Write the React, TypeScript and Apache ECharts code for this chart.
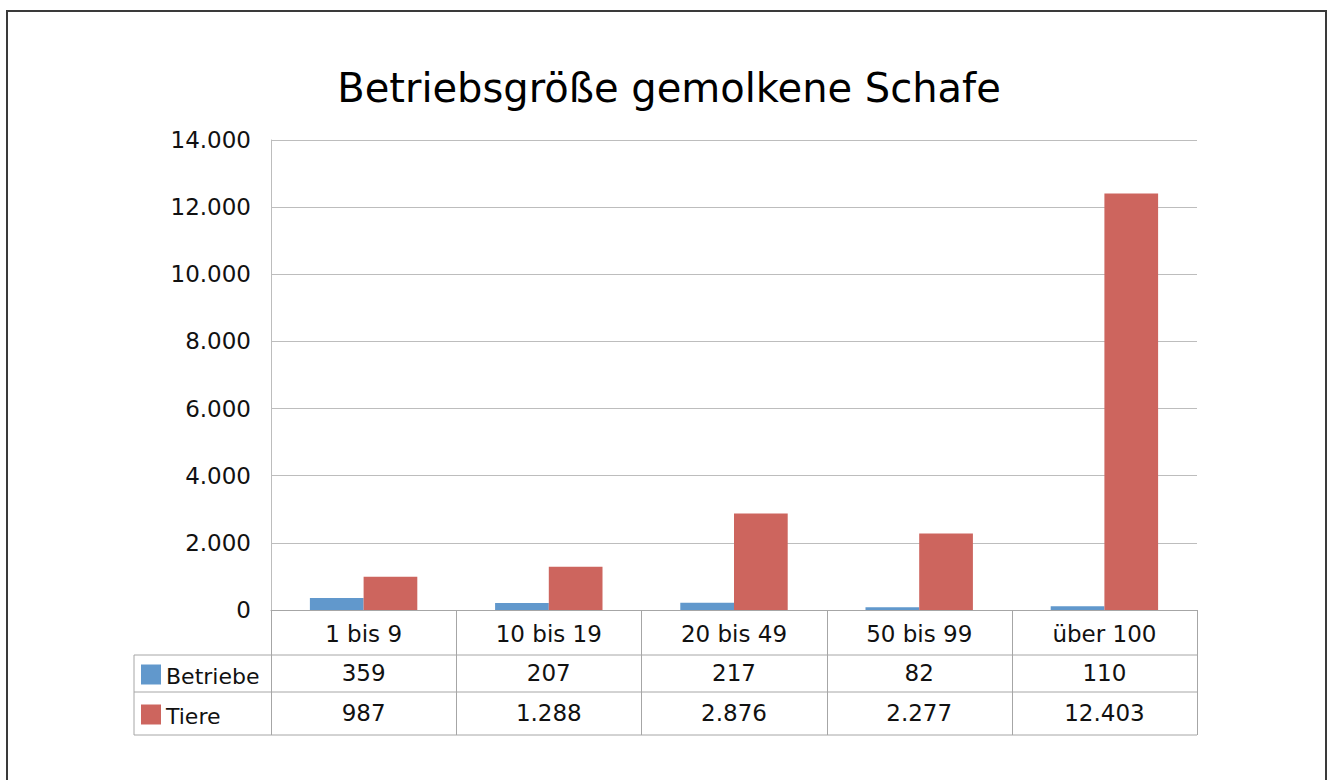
import React, { useEffect, useRef } from "react";
import * as echarts from "echarts";

const categories = ["1 bis 9", "10 bis 19", "20 bis 49", "50 bis 99", "über 100"];
const betriebe = [359, 207, 217, 82, 110];
const tiere = [987, 1288, 2876, 2277, 12403];
const seriesNames = ["Betriebe", "Tiere"];
const colors = ["#6198CC", "#CD655E"];

const fmt = (v: number) => String(v).replace(/\B(?=(\d{3})+(?!\d))/g, ".");

const FONT = "DejaVu Sans";
const GL = 271, GT = 140, GW = 926, GH = 470;
const TL = 134;
const ROW1 = GT + GH + 45; // 655
const ROW2 = ROW1 + 37; // 692
const ROW3 = ROW2 + 43; // 735
const LINE = "#a6a6a6";

export default function App() {
  const ref = useRef<HTMLDivElement>(null);
  useEffect(() => {
    const chart = echarts.init(ref.current!, null, { renderer: "svg" });
    const colW = GW / categories.length;
    const graphics: any[] = [];
    graphics.push({
      type: "rect", shape: { x: 7, y: 11, width: 1319, height: 800 },
      style: { fill: "none", stroke: "#3a3a3a", lineWidth: 2 }, silent: true,
    });
    [ROW1, ROW2, ROW3].forEach((y) =>
      graphics.push({ type: "line", shape: { x1: TL, y1: y, x2: GL + GW, y2: y }, style: { stroke: LINE, lineWidth: 1 } })
    );
    graphics.push({ type: "line", shape: { x1: TL, y1: ROW1, x2: TL, y2: ROW3 }, style: { stroke: LINE, lineWidth: 1 } });
    for (let i = 0; i <= categories.length; i++) {
      const x = Math.round(GL + i * colW) + 0.5;
      graphics.push({ type: "line", shape: { x1: x, y1: GT + GH, x2: x, y2: ROW3 }, style: { stroke: LINE, lineWidth: 1 } });
    }
    const rows = [betriebe, tiere];
    const rowMid = [(ROW1 + ROW2) / 2, (ROW2 + ROW3) / 2];
    rows.forEach((vals, r) => {
      graphics.push({ type: "rect", shape: { x: 141, y: rowMid[r] - 9, width: 20, height: 20 }, style: { fill: colors[r] } });
      graphics.push({
        type: "text", x: 166, y: rowMid[r] + 3,
        style: { text: seriesNames[r], font: `22px '${FONT}'`, fill: "#111", verticalAlign: "middle" },
      });
      vals.forEach((v, i) => {
        graphics.push({
          type: "text", x: GL + (i + 0.5) * colW, y: rowMid[r] - 1,
          style: { text: fmt(v), font: `23px '${FONT}'`, fill: "#111", align: "center", verticalAlign: "middle" },
        });
      });
    });

    chart.setOption({
      animation: false,
      backgroundColor: "#fff",
      title: {
        text: "Betriebsgröße gemolkene Schafe",
        left: 664, top: 63, textAlign: "center",
        textStyle: { fontFamily: FONT, fontSize: 40, fontWeight: "normal", color: "#000" },
      },
      grid: { left: GL, top: GT, width: GW, height: GH, containLabel: false },
      xAxis: {
        type: "category",
        data: categories,
        axisLine: { show: true, lineStyle: { color: LINE } },
        axisTick: { show: false },
        axisLabel: { margin: 12, fontFamily: FONT, fontSize: 23, color: "#111", interval: 0 },
      },
      yAxis: {
        type: "value", min: 0, max: 14000, interval: 2000,
        axisLine: { show: true, lineStyle: { color: "#bdbdbd" } },
        axisTick: { show: false },
        splitLine: { lineStyle: { color: "#bdbdbd" } },
        axisLabel: { margin: 20, fontFamily: FONT, fontSize: 23, color: "#111", formatter: (v: number) => fmt(v) },
      },
      series: [
        { name: seriesNames[0], type: "bar", data: betriebe, itemStyle: { color: colors[0] }, barGap: "0%", barCategoryGap: "42%" },
        { name: seriesNames[1], type: "bar", data: tiere, itemStyle: { color: colors[1] }, barGap: "0%", barCategoryGap: "42%" },
      ],
      graphic: graphics,
    });
    return () => chart.dispose();
  }, []);
  return <div ref={ref} style={{ position: "absolute", left: 0, top: 0, width: 1331, height: 780 }} />;
}
